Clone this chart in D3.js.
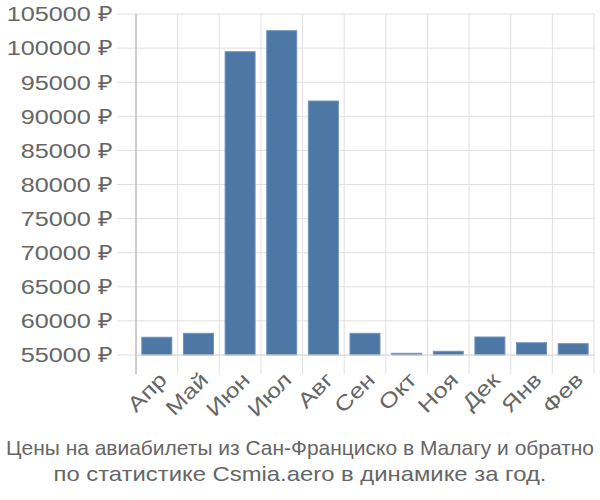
<!DOCTYPE html>
<html><head><meta charset="utf-8">
<script src="https://cdn.jsdelivr.net/npm/d3@7"></script>
<style>body{margin:0;background:#fff}</style>
</head><body>
<svg id="c" width="600" height="500"></svg>
<script>
const months = ["Апр","Май","Июн","Июл","Авг","Сен","Окт","Ноя","Дек","Янв","Фев"];
const prices = [57600,58180,99470,102550,92240,58180,55250,55540,57640,56800,56660];
const yTicks = [55000,60000,65000,70000,75000,80000,85000,90000,95000,100000,105000];
const titleLines = ["Цены на авиабилеты из Сан-Франциско в Малагу и обратно","по статистике Csmia.aero в динамике за год."];

(function(){
const svg = d3.select("#c");
const pL = 136, pR = 594, pT = 14, pB = 355;
const font = "'Liberation Sans', Arial, sans-serif";
const x = d3.scaleBand().domain(months).range([pL, pR]).paddingInner(0.28).paddingOuter(0.14);
const y = d3.scaleLinear().domain([55000, 105000]).range([pB, pT]);
const step = x.step();

svg.append("g").selectAll("line").data(yTicks).join("line")
  .attr("x1", pL - 19).attr("x2", pR)
  .attr("y1", d => y(d)).attr("y2", d => y(d))
  .attr("stroke", "#e0e0e0").attr("stroke-width", 1);

const bounds = months.map(m => x(m) - step * 0.14).concat([pR]);
svg.append("g").selectAll("line").data(bounds).join("line")
  .attr("x1", d => d).attr("x2", d => d)
  .attr("y1", pT).attr("y2", pB + 19)
  .attr("stroke", "#e0e0e0").attr("stroke-width", 1);

svg.append("line").attr("x1", pL).attr("x2", pL).attr("y1", pT).attr("y2", pB + 19)
  .attr("stroke", "#aaa").attr("stroke-width", 1);

svg.append("g").selectAll("rect").data(prices).join("rect")
  .attr("x", (d, i) => x(months[i]))
  .attr("width", x.bandwidth())
  .attr("y", d => y(d))
  .attr("height", d => y(55000) - y(d))
  .attr("fill", "#4d77a5")
  .attr("stroke", "#6f92bb").attr("stroke-width", 1);

svg.append("line").attr("x1", pL).attr("x2", pR).attr("y1", pB).attr("y2", pB)
  .attr("stroke", "#ddd").attr("stroke-width", 1);

svg.append("g").selectAll("text").data(yTicks).join("text")
  .attr("transform", d => `translate(113,${y(d)}) scale(1.2,1)`)
  .attr("dy", "0.35em")
  .attr("text-anchor", "end").attr("fill", "#666")
  .style("font-family", font).style("font-size", "21px")
  .text(d => d + " ₽");

svg.append("g").selectAll("text").data(months).join("text")
  .attr("transform", m => `translate(${x(m) + x.bandwidth() / 2 + 6},${pB + 21}) rotate(-45) scale(1.22,1)`)
  .attr("text-anchor", "end").attr("dy", "0.35em").attr("fill", "#666")
  .style("font-family", font).style("font-size", "21px")
  .text(m => m);

const tl = [588, 493];
svg.append("g").selectAll("text").data(titleLines).join("text")
  .attr("x", 300).attr("y", (d, i) => 455 + i * 26)
  .attr("text-anchor", "middle").attr("fill", "#666")
  .attr("textLength", (d, i) => tl[i]).attr("lengthAdjust", "spacingAndGlyphs")
  .style("font-family", font).style("font-size", "21px")
  .text(d => d);
})();
</script>
</body></html>
